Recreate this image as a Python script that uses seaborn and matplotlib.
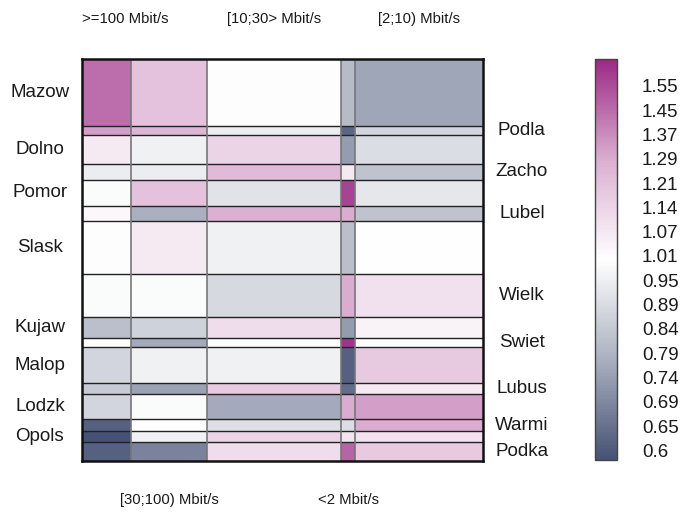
import numpy as np
import matplotlib
matplotlib.use("Agg")
import matplotlib.pyplot as plt
import seaborn as sns
from matplotlib.colors import LogNorm
from matplotlib.ticker import NullLocator, NullFormatter

sns.set_style("white")
plt.rcParams["font.family"] = ["Liberation Sans", "DejaVu Sans"]

# speed classes (columns) and their share of all lines, %
speeds = [">=100 Mbit/s", "[30;100) Mbit/s", "[10;30> Mbit/s", "<2 Mbit/s", "[2;10) Mbit/s"]
speed_share = [12.2, 19.0, 33.4, 3.5, 31.9]

# regions (rows) and their share, %
regions = ["Mazow", "Podla", "Dolno", "Zacho", "Pomor", "Lubel", "Slask", "Wielk",
           "Kujaw", "Swiet", "Malop", "Lubus", "Lodzk", "Warmi", "Opols", "Podka"]
region_share = [16.6, 2.3, 7.2, 3.9, 6.5, 3.8, 13.2, 10.6,
                5.2, 2.4, 9.0, 2.7, 6.3, 3.0, 2.6, 4.7]

# observed / expected ratio per region x speed class
ratio = [
    [1.45, 1.20, 0.99, 0.79, 0.74],  # Mazow
    [1.32, 1.25, 0.93, 0.62, 0.86],  # Podla
    [1.06, 0.94, 1.13, 0.72, 0.88],  # Dolno
    [0.93, 0.93, 1.23, 1.06, 0.81],  # Zacho
    [0.97, 1.20, 0.90, 1.58, 0.91],  # Pomor
    [1.01, 0.76, 1.27, 1.28, 0.81],  # Lubel
    [0.99, 1.06, 0.94, 0.80, 0.985],  # Slask
    [0.97, 0.97, 0.87, 1.28, 1.09],  # Wielk
    [0.80, 0.85, 1.10, 0.72, 1.03],  # Kujaw
    [0.99, 0.75, 0.99, 1.62, 0.99],  # Swiet
    [0.86, 0.94, 0.94, 0.61, 1.17],  # Malop
    [0.83, 0.73, 1.17, 0.63, 1.06],  # Lubus
    [0.86, 0.97, 0.75, 1.28, 1.32],  # Lodzk
    [0.61, 0.98, 0.89, 0.88, 1.28],  # Warmi
    [0.58, 0.94, 1.13, 1.07, 1.08],  # Opols
    [0.61, 0.67, 1.10, 1.48, 1.17],  # Podka
]
cbar_labels = ["0.6", "0.65", "0.69", "0.74", "0.79", "0.84", "0.89", "0.95",
               "1.01", "1.07", "1.14", "1.21", "1.29", "1.37", "1.45", "1.55"]

cmap = sns.blend_palette(["#465275", "#aab0bf", "#ffffff", "#dbaed1", "#9b2a85"], as_cmap=True)
norm = LogNorm(vmin=0.585, vmax=1.66)

x_edges = np.concatenate([[0], np.cumsum(speed_share)])
y_edges = np.concatenate([[0], np.cumsum(region_share)])

fig = plt.figure(figsize=(6.8, 5.12), dpi=100)
ax = fig.add_axes([0.1206, 0.100, 0.5897, 0.784])
mesh = ax.pcolormesh(x_edges, y_edges, np.array(ratio), cmap=cmap, norm=norm)
ax.set_xlim(0, 100)
ax.set_ylim(100, 0)

for y in y_edges[1:-1]:
    ax.axhline(y, color="#222222", lw=1.0)
for x in x_edges[1:-1]:
    ax.axvline(x, color="#777777", lw=1.2)
for s in ax.spines.values():
    s.set_color("#111111")
    s.set_linewidth(1.8)
ax.set_xticks([])
ax.set_yticks([])

# region labels alternate left / right
y_mid = (y_edges[:-1] + y_edges[1:]) / 2
trans = ax.get_yaxis_transform()
for i, (name, ym) in enumerate(zip(regions, y_mid)):
    xpos = -0.105 if i % 2 == 0 else 1.097
    ax.text(xpos, ym, name, transform=trans, ha="center", va="center",
            fontsize=13.5, color="#1a1a1a")

# speed labels alternate top / bottom
x_mid = (x_edges[:-1] + x_edges[1:]) / 2
ttrans = ax.get_xaxis_transform()
for i, (name, xm) in enumerate(zip(speeds, x_mid)):
    ypos = 1.100 if i % 2 == 0 else -0.098
    if i == 0:
        ax.text(0, ypos, name, transform=ttrans, ha="left", va="center",
                fontsize=10.7, color="#1a1a1a")
    else:
        ax.text(xm, ypos, name, transform=ttrans, ha="center", va="center",
                fontsize=10.7, color="#1a1a1a")

cax = fig.add_axes([0.875, 0.101, 0.032, 0.783])
cb = fig.colorbar(mesh, cax=cax)
cb.ax.yaxis.set_minor_locator(NullLocator())
cb.ax.yaxis.set_minor_formatter(NullFormatter())
cb.set_ticks(np.geomspace(0.6, 1.55, len(cbar_labels)))
cb.set_ticklabels(cbar_labels)
cb.ax.tick_params(length=0, pad=18, labelsize=13.5, labelcolor="#1a1a1a")
cb.outline.set_edgecolor("#444444")
cb.outline.set_linewidth(1.0)

fig.savefig("out.png", dpi=100)
